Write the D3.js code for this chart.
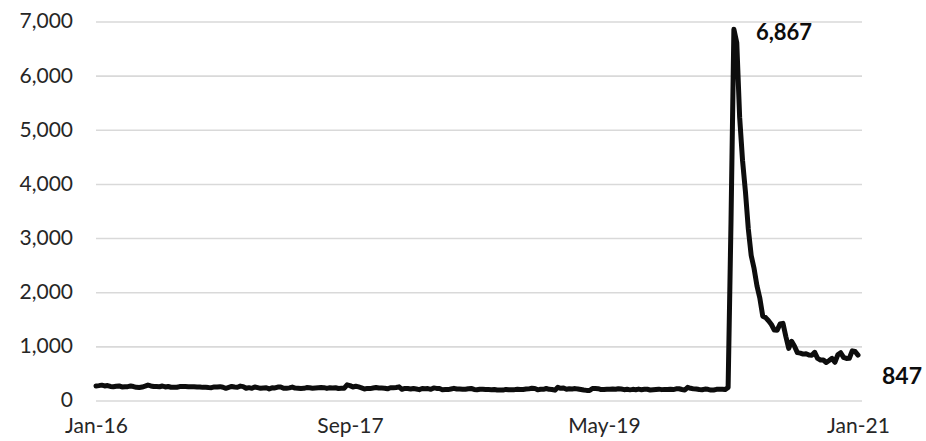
<!DOCTYPE html>
<html>
<head>
<meta charset="utf-8">
<script src="https://cdn.jsdelivr.net/npm/d3@7"></script>
<style>
  html, body { margin: 0; padding: 0; background: #fff; }
  svg { display: block; }
  text { font-family: Lato, "Noto Sans", sans-serif; }
</style>
</head>
<body>
<svg id="chart" width="926" height="441"></svg>
<script>
// Weekly initial jobless claims, seasonally adjusted, thousands.
// First week ends Sat 2 Jan 2016; one value per week through 23 Jan 2021.
const claims2016 = [277, 284, 293, 278, 285, 269, 262, 272, 278, 259, 265, 265, 276,
  267, 253, 248, 257, 274, 294, 278, 268, 267, 264, 277, 259, 268,
  254, 253, 253, 266, 269, 266, 262, 261, 263, 259, 260, 252, 254,
  249, 246, 260, 258, 265, 254, 235, 251, 268, 258, 254, 275, 265, 235];
const claims2017 = [247, 234, 259, 246, 234, 239, 244, 223, 243, 241, 258, 259,
  234, 234, 243, 257, 238, 236, 232, 234, 248, 245, 237, 241, 244,
  248, 247, 233, 244, 240, 244, 232, 234, 236, 298, 284, 259, 272, 260,
  243, 222, 233, 229, 239, 249, 239, 238, 236, 225, 245, 245, 250];
const claims2018 = [261, 216, 233, 230, 221, 230, 222, 210, 231, 226, 229, 215, 242,
  233, 232, 209, 211, 211, 222, 234, 221, 222, 218, 218, 227, 231,
  214, 207, 217, 218, 213, 212, 210, 213, 203, 204, 201, 214, 207,
  210, 210, 216, 214, 214, 221, 224, 235, 233, 206, 217, 216, 231];
const claims2019 = [216, 213, 200, 253, 234, 239, 216, 226, 223, 229, 221, 211, 202,
  196, 193, 230, 230, 228, 212, 211, 215, 218, 222, 216, 227, 221,
  209, 216, 206, 215, 209, 220, 209, 215, 217, 204, 208, 213, 219,
  210, 214, 213, 218, 211, 225, 227, 213, 203, 252, 235, 224, 220];
const claims2020 = [212, 207, 220, 215, 201, 204, 215, 219, 217, 211, 251, 3307, 6867,
  6615, 5237, 4442, 3867, 3176, 2687, 2446, 2126, 1897, 1566, 1540, 1482, 1413,
  1310, 1308, 1422, 1435, 1191, 971, 1104, 1011, 893, 884, 866, 873, 849,
  845, 898, 787, 758, 757, 711, 748, 787, 716, 853, 892, 806, 787];
const claims2021 = [790, 926, 914, 847];

const claims = [].concat(claims2016, claims2017, claims2018, claims2019, claims2020, claims2021);

// Category labels shown every 88 weeks
const xTickIndex = [0, 88, 176, 264];
const xTickLabels = ["Jan-16", "Sep-17", "May-19", "Jan-21"];
const yTicks = [0, 1000, 2000, 3000, 4000, 5000, 6000, 7000];

const peakLabel = "6,867";
const lastLabel = "847";

const svg = d3.select("#chart");
const plot = { left: 96, right: 860, top: 22, bottom: 401 };

const x = d3.scaleLinear().domain([0, claims.length - 1]).range([plot.left, plot.right - 2]);
const y = d3.scaleLinear().domain([0, 7000]).range([plot.bottom, plot.top]);

// Horizontal gridlines
svg.append("g")
  .selectAll("line")
  .data(yTicks)
  .join("line")
  .attr("x1", plot.left).attr("x2", plot.right + 2)
  .attr("y1", d => y(d)).attr("y2", d => y(d))
  .attr("stroke", "#d9d9d9")
  .attr("stroke-width", 1.6);

// Y axis labels
const yAxis = d3.axisLeft(y)
  .tickValues(yTicks)
  .tickFormat(d3.format(","))
  .tickSize(0)
  .tickPadding(0);
svg.append("g")
  .attr("transform", `translate(${plot.left - 23},0)`)
  .call(yAxis)
  .call(g => g.select(".domain").remove())
  .call(g => g.selectAll("text")
    .attr("font-size", 21)
    .attr("fill", "#262626")
    .attr("font-family", "Lato, 'Noto Sans', sans-serif")
    .attr("dy", "0.28em"));

// X axis labels
const xAxis = d3.axisBottom(x)
  .tickValues(xTickIndex)
  .tickFormat((d, i) => xTickLabels[i])
  .tickSize(0)
  .tickPadding(0);
svg.append("g")
  .attr("transform", `translate(0,${plot.bottom + 17})`)
  .call(xAxis)
  .call(g => g.select(".domain").remove())
  .call(g => g.selectAll("text")
    .attr("font-size", 21)
    .attr("fill", "#262626")
    .attr("font-family", "Lato, 'Noto Sans', sans-serif"));

// Claims line
const line = d3.line()
  .x((d, i) => x(i))
  .y(d => y(d));
svg.append("path")
  .datum(claims)
  .attr("d", line)
  .attr("fill", "none")
  .attr("stroke", "#0d0d0d")
  .attr("stroke-width", 5)
  .attr("stroke-linejoin", "round")
  .attr("stroke-linecap", "round");

// Value callouts
const peakIndex = claims.indexOf(d3.max(claims));
svg.append("text")
  .attr("x", x(peakIndex) + 22)
  .attr("y", y(claims[peakIndex]) + 11)
  .attr("font-size", 22)
  .attr("font-weight", "bold")
  .attr("fill", "#0d0d0d")
  .text(peakLabel);

const lastIndex = claims.length - 1;
svg.append("text")
  .attr("x", x(lastIndex) + 24)
  .attr("y", y(claims[lastIndex]) + 29)
  .attr("font-size", 23)
  .attr("font-weight", "bold")
  .attr("fill", "#0d0d0d")
  .text(lastLabel);
</script>
</body>
</html>
